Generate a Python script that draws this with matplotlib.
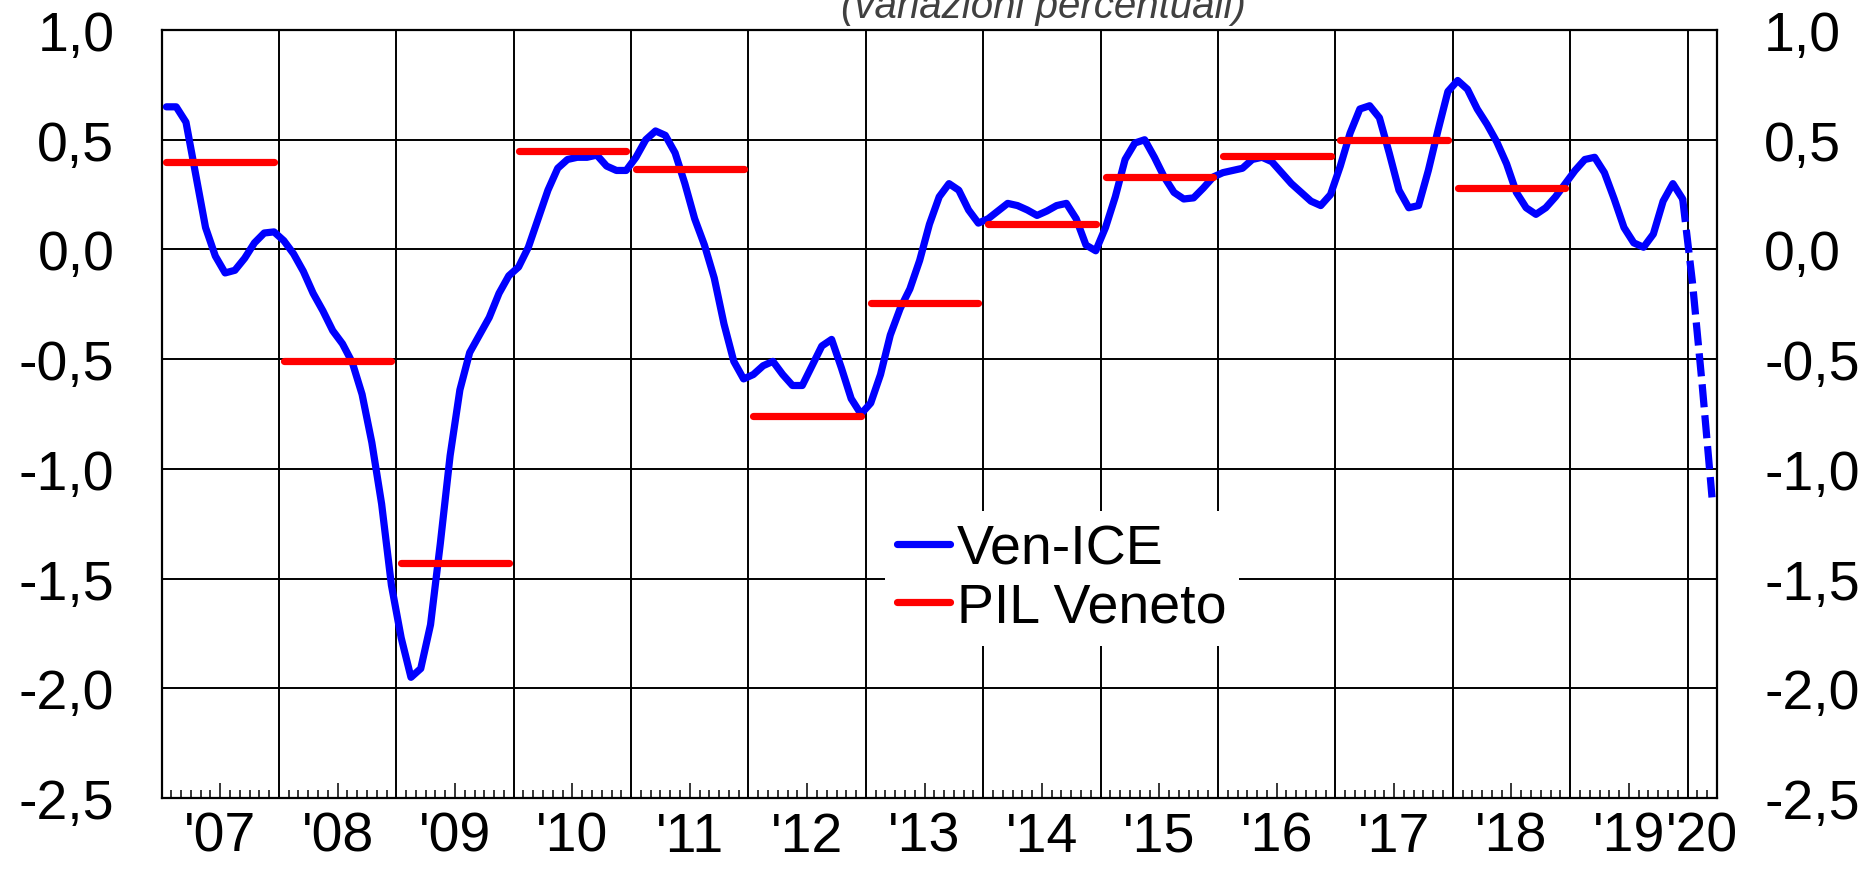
import numpy as np
import matplotlib
matplotlib.use('Agg')
import matplotlib.pyplot as plt
from matplotlib.lines import Line2D

plt.rcParams['font.family'] = ['Liberation Sans', 'DejaVu Sans']

# anni sull'asse x
years = list(range(2007, 2021))
year_labels = ["'07", "'08", "'09", "'10", "'11", "'12", "'13",
               "'14", "'15", "'16", "'17", "'18", "'19", "'20"]

# Ven-ICE, valori mensili
ice_2007 = [0.65, 0.65, 0.58, 0.34, 0.10, -0.03, -0.107, -0.095, -0.04, 0.03, 0.075, 0.08]
ice_2008 = [0.04, -0.02, -0.10, -0.20, -0.28, -0.37, -0.43, -0.515, -0.66, -0.88, -1.16, -1.53]
ice_2009 = [-1.77, -1.95, -1.91, -1.71, -1.34, -0.94, -0.64, -0.47, -0.39, -0.31, -0.20, -0.12]
ice_2010 = [-0.08, 0.01, 0.14, 0.27, 0.37, 0.41, 0.42, 0.42, 0.43, 0.38, 0.36, 0.36]
ice_2011 = [0.42, 0.50, 0.54, 0.52, 0.44, 0.30, 0.14, 0.02, -0.13, -0.34, -0.51, -0.59]
ice_2012 = [-0.57, -0.53, -0.51, -0.57, -0.62, -0.62, -0.53, -0.44, -0.41, -0.54, -0.68, -0.75]
ice_2013 = [-0.70, -0.57, -0.39, -0.27, -0.18, -0.05, 0.115, 0.24, 0.30, 0.27, 0.18, 0.12]
ice_2014 = [0.14, 0.175, 0.21, 0.20, 0.18, 0.155, 0.175, 0.20, 0.21, 0.14, 0.02, -0.006]
ice_2015 = [0.10, 0.24, 0.41, 0.485, 0.50, 0.42, 0.33, 0.26, 0.23, 0.235, 0.28, 0.33]
ice_2016 = [0.35, 0.36, 0.37, 0.41, 0.42, 0.40, 0.35, 0.30, 0.26, 0.22, 0.20, 0.25]
ice_2017 = [0.38, 0.53, 0.64, 0.655, 0.60, 0.44, 0.27, 0.19, 0.20, 0.36, 0.545, 0.72]
ice_2018 = [0.77, 0.73, 0.64, 0.57, 0.49, 0.39, 0.26, 0.19, 0.16, 0.19, 0.24, 0.30]
ice_2019 = [0.36, 0.41, 0.42, 0.35, 0.23, 0.10, 0.03, 0.01, 0.07, 0.22, 0.30, 0.23]
ice_2020 = [-0.15, -0.62, -1.13]  # stima (tratteggio)

# PIL Veneto, valori annuali
pil_years = [2007, 2008, 2009, 2010, 2011, 2012, 2013, 2014, 2015, 2016, 2017, 2018]
pil_veneto = [0.40, -0.51, -1.43, 0.45, 0.365, -0.76, -0.245, 0.115, 0.33, 0.425, 0.50, 0.28]

y_ticks = [-2.5, -2.0, -1.5, -1.0, -0.5, 0.0, 0.5, 1.0]

ice = (ice_2007 + ice_2008 + ice_2009 + ice_2010 + ice_2011 + ice_2012 + ice_2013
       + ice_2014 + ice_2015 + ice_2016 + ice_2017 + ice_2018 + ice_2019)
n_months = len(ice) + len(ice_2020)

fig = plt.figure(figsize=(18.76, 8.79), dpi=100)
ax = fig.add_axes([0.0861, 0.0910, 0.8291, 0.8737])

blue = '#0000FF'
red = '#FF0000'
lw = 5.2
fs = 40

x_solid = np.arange(len(ice)) + 0.5
ax.plot(x_solid, ice, color=blue, lw=lw, solid_joinstyle='round',
        solid_capstyle='round', zorder=3)
x_dash = np.arange(len(ice) - 1, n_months) + 0.5
ax.plot(x_dash, [ice[-1]] + ice_2020, color=blue, lw=lw,
        ls=(0, (3.2, 1.1)), zorder=3)

for yr, v in zip(pil_years, pil_veneto):
    m0 = (yr - years[0]) * 12
    ax.plot([m0 + 0.5, m0 + 11.5], [v, v], color=red, lw=lw,
            solid_capstyle='round', zorder=4)

# assi
ax.set_xlim(0, n_months)
ax.set_ylim(y_ticks[0], y_ticks[-1])

ax.set_yticks(y_ticks, labels=[f"{v:.1f}".replace('.', ',') for v in y_ticks])
ax.tick_params(axis='y', length=0, labelsize=fs, pad=34,
               labelleft=True, labelright=True)
ax.yaxis.grid(True, color='black', lw=1.4)
ax.set_axisbelow(True)

year_starts = [(y - years[0]) * 12 for y in years]
mids = [s + 6 for s in year_starts[:-1]] + [(year_starts[-1] + n_months) / 2]
ax.set_xticks(mids, labels=year_labels)
ax.set_xticks([m for m in range(1, n_months) if m % 12 != 0], minor=True)
ax.tick_params(axis='x', which='major', direction='in', length=11, width=1.1,
               labelsize=fs, pad=9)
ax.tick_params(axis='x', which='minor', direction='in', length=6, width=1.1)
ax.xaxis.get_major_ticks()[-1].tick1line.set_visible(False)

for s in year_starts[1:]:
    ax.axvline(s, color='black', lw=1.4, zorder=1)

for sp in ax.spines.values():
    sp.set_color('black')
    sp.set_linewidth(1.6)

handles = [Line2D([], [], color=blue, lw=lw, solid_capstyle='round'),
           Line2D([], [], color=red, lw=lw, solid_capstyle='round')]
ax.legend(handles, ['Ven-ICE', 'PIL Veneto'], loc='upper left',
          bbox_to_anchor=(0.4718, 0.4175), bbox_transform=fig.transFigure,
          fancybox=False, edgecolor='none', facecolor='white', framealpha=1,
          fontsize=fs, handlelength=0.95, handletextpad=0.12,
          labelspacing=0.12, borderpad=0.22, borderaxespad=0)

fig.text(0.556, 0.9795, '(variazioni percentuali)', ha='center', va='baseline',
         style='italic', color='#404040', fontsize=29)

fig.savefig('out.png', dpi=100)
